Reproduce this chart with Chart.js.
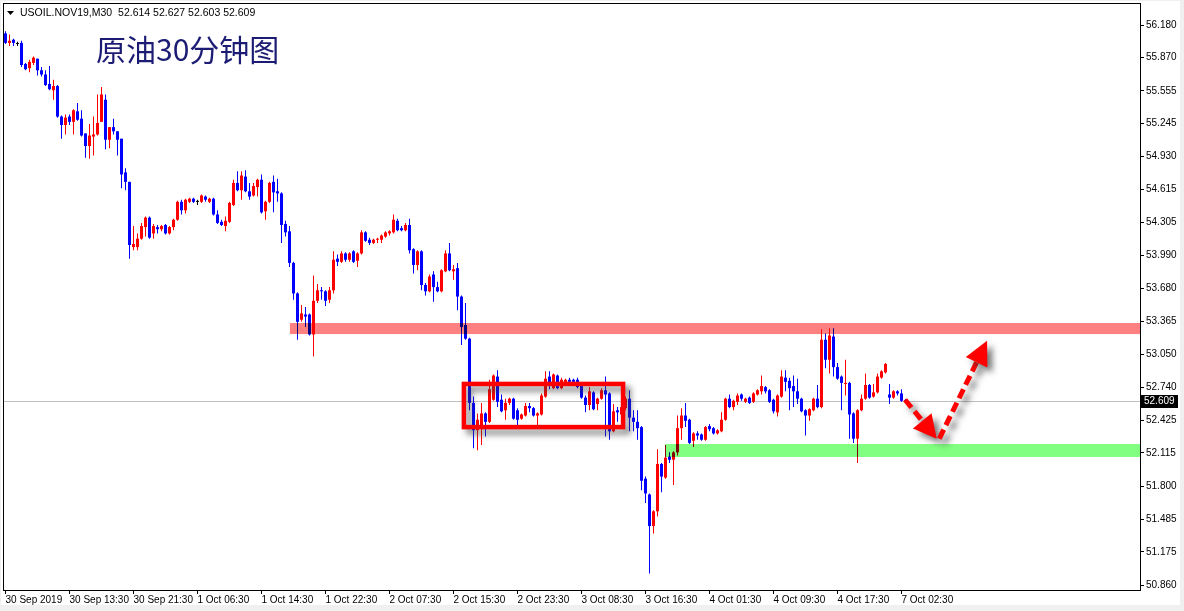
<!DOCTYPE html>
<html>
<head>
<meta charset="utf-8">
<script src="https://cdn.jsdelivr.net/npm/chart.js@4.4.1/dist/chart.umd.min.js"></script>
<style>
  html, body { margin: 0; padding: 0; background: #f0f0f0; }
  #wrap { width: 1184px; height: 611px; }
</style>
</head>
<body>
<div id="wrap"><canvas id="candles" width="1184" height="611"></canvas></div>
<script>
// USOIL.NOV19 M30 candles, 30 Sep - 7 Oct 2019
const opens = [
  56.10,56.01,56.04,56.00,56.01,55.81,55.77,55.82,55.86,55.75,
  55.71,55.62,55.56,55.60,55.31,55.23,55.31,55.26,55.36,55.29,
  55.15,55.03,55.12,55.14,55.26,55.47,55.09,55.21,55.17,55.10,
  54.78,54.69,54.07,54.07,54.15,54.26,54.35,54.20,54.26,54.24,
  54.28,54.20,54.26,54.33,54.50,54.42,54.50,54.53,54.50,54.50,
  54.55,54.50,54.53,54.38,54.31,54.27,54.31,54.47,54.68,54.61,
  54.74,54.60,54.56,54.64,54.71,54.41,54.50,54.69,54.60,54.58,
  54.29,54.22,53.92,53.63,53.38,53.43,53.43,53.24,53.56,53.66,
  53.65,53.57,53.66,53.96,53.93,54.01,53.95,54.03,53.94,54.01,
  54.21,54.14,54.11,54.14,54.14,54.17,54.20,54.21,54.32,54.25,
  54.23,54.28,54.05,53.90,54.03,53.71,53.65,53.81,53.69,53.65,
  53.84,54.01,53.84,53.87,53.60,53.33,53.20,52.59,52.33,52.36,
  52.49,52.41,52.62,52.84,52.62,52.52,52.59,52.63,52.52,52.44,
  52.47,52.56,52.54,52.47,52.48,52.65,52.84,52.73,52.85,52.73,
  52.78,52.81,52.81,52.81,52.76,52.64,52.57,52.69,52.58,52.63,
  52.71,52.68,52.32,52.52,52.48,52.54,52.63,52.45,52.41,52.36,
  51.87,51.72,51.42,51.56,52.01,51.88,52.08,52.05,52.12,52.35,
  52.47,52.43,52.23,52.30,52.29,52.24,52.37,52.35,52.30,52.32,
  52.43,52.63,52.55,52.60,52.67,52.60,52.64,52.60,52.67,52.70,
  52.74,52.71,52.62,52.50,52.65,52.83,52.80,52.75,52.70,52.63,
  52.52,52.47,52.52,52.63,52.55,53.19,53.00,53.22,52.93,52.84,
  52.77,52.78,52.49,52.25,52.52,52.63,52.76,52.65,52.69,52.83,
  52.88,52.67,52.64,52.70,52.68,52.614
];
const highs = [
  56.12,56.09,56.05,56.02,56.03,55.82,55.85,55.88,55.86,55.78,
  55.75,55.79,55.66,55.61,55.32,55.33,55.33,55.38,55.44,55.37,
  55.15,55.24,55.31,55.52,55.59,55.52,55.21,55.29,55.17,55.10,
  54.82,54.69,54.27,54.20,54.30,54.36,54.36,54.29,54.28,54.28,
  54.29,54.27,54.34,54.51,54.52,54.53,54.54,54.54,54.52,54.57,
  54.56,54.54,54.54,54.42,54.33,54.36,54.50,54.71,54.79,54.79,
  54.80,54.68,54.68,54.72,54.76,54.51,54.69,54.75,54.72,54.59,
  54.32,54.27,53.93,53.64,53.52,53.50,53.44,53.80,53.72,53.69,
  53.66,53.69,54.03,54.00,54.03,54.02,54.02,54.04,54.02,54.23,
  54.22,54.16,54.15,54.16,54.19,54.22,54.23,54.38,54.34,54.27,
  54.30,54.34,54.06,54.04,54.04,53.73,53.81,53.84,53.74,53.86,
  54.04,54.11,53.90,53.92,53.61,53.54,53.21,52.65,52.49,52.59,
  52.50,52.81,52.86,52.90,52.67,52.63,52.64,52.64,52.54,52.49,
  52.59,52.59,52.55,52.50,52.68,52.89,52.89,52.87,52.86,52.83,
  52.82,52.83,52.82,52.83,52.77,52.66,52.74,52.70,52.64,52.73,
  52.84,52.69,52.58,52.55,52.57,52.65,52.71,52.52,52.52,52.37,
  51.89,51.73,51.57,52.15,52.02,52.19,52.12,52.13,52.47,52.54,
  52.59,52.44,52.31,52.32,52.30,52.37,52.39,52.36,52.34,52.50,
  52.64,52.67,52.62,52.68,52.68,52.64,52.65,52.69,52.72,52.85,
  52.75,52.72,52.63,52.67,52.90,52.90,52.83,52.85,52.82,52.64,
  52.53,52.54,52.64,52.76,53.29,53.25,53.30,53.30,52.97,52.85,
  53.00,52.79,52.50,52.53,52.67,52.87,52.77,52.77,52.87,52.90,
  52.97,52.77,52.71,52.71,52.72,52.627
];
const lows = [
  56.00,55.98,55.98,55.98,55.78,55.75,55.73,55.80,55.70,55.69,
  55.60,55.56,55.47,55.30,55.10,55.14,55.23,55.14,55.27,55.12,
  54.92,54.91,54.94,55.13,55.26,55.00,55.01,55.14,54.94,54.63,
  54.61,53.96,54.04,54.04,54.14,54.17,54.15,54.15,54.20,54.22,
  54.19,54.19,54.23,54.32,54.38,54.39,54.49,54.49,54.47,54.49,
  54.50,54.49,54.37,54.29,54.27,54.22,54.30,54.46,54.60,54.52,
  54.59,54.52,54.55,54.55,54.39,54.33,54.49,54.40,54.50,54.11,
  54.17,53.88,53.57,53.19,53.36,53.31,53.23,53.03,53.54,53.57,
  53.51,53.54,53.63,53.89,53.92,53.93,53.93,53.92,53.88,54.00,
  54.12,54.09,54.10,54.11,54.11,54.16,54.18,54.20,54.22,54.22,
  54.22,54.01,53.82,53.85,53.66,53.61,53.64,53.55,53.64,53.64,
  53.83,53.84,53.76,53.47,53.14,53.19,52.52,52.16,52.14,52.19,
  52.27,52.40,52.61,52.55,52.50,52.43,52.57,52.43,52.38,52.43,
  52.46,52.50,52.46,52.38,52.47,52.64,52.72,52.72,52.72,52.72,
  52.77,52.78,52.78,52.73,52.63,52.50,52.52,52.52,52.52,52.62,
  52.27,52.24,52.31,52.41,52.47,52.52,52.32,52.32,52.24,51.76,
  51.64,50.97,51.35,51.51,51.74,51.87,52.02,51.81,52.09,52.24,
  52.36,52.20,52.17,52.24,52.23,52.23,52.32,52.29,52.29,52.31,
  52.42,52.54,52.52,52.57,52.61,52.59,52.58,52.59,52.66,52.67,
  52.68,52.59,52.49,52.46,52.64,52.70,52.52,52.55,52.58,52.50,
  52.28,52.42,52.51,52.54,52.54,52.92,52.87,52.84,52.81,52.52,
  52.66,52.25,52.21,52.02,52.51,52.62,52.63,52.64,52.68,52.82,
  52.87,52.58,52.63,52.66,52.60,52.603
];
const closes = [
  56.01,56.03,56.01,56.00,55.80,55.76,55.83,55.87,55.75,55.71,
  55.61,55.57,55.60,55.31,55.23,55.30,55.26,55.37,55.28,55.13,
  55.03,55.13,55.14,55.25,55.52,55.09,55.21,55.17,55.09,54.76,
  54.69,54.09,54.10,54.15,54.27,54.35,54.16,54.27,54.24,54.27,
  54.20,54.26,54.33,54.50,54.42,54.52,54.53,54.50,54.50,54.56,
  54.52,54.53,54.38,54.30,54.28,54.32,54.49,54.68,54.61,54.75,
  54.60,54.55,54.65,54.71,54.40,54.50,54.68,54.59,54.58,54.28,
  54.21,53.92,53.63,53.36,53.44,53.41,53.24,53.56,53.66,53.65,
  53.56,53.66,53.95,53.93,54.01,53.95,54.01,53.93,54.01,54.21,
  54.13,54.11,54.14,54.15,54.18,54.21,54.22,54.33,54.23,54.23,
  54.28,54.04,53.90,54.03,53.71,53.65,53.79,53.69,53.65,53.85,
  54.01,53.85,53.86,53.60,53.31,53.20,52.59,52.33,52.43,52.49,
  52.41,52.72,52.85,52.60,52.51,52.59,52.63,52.44,52.43,52.48,
  52.56,52.54,52.47,52.49,52.66,52.82,52.78,52.86,52.73,52.81,
  52.81,52.79,52.79,52.74,52.64,52.57,52.70,52.53,52.63,52.71,
  52.67,52.32,52.51,52.50,52.55,52.63,52.45,52.41,52.35,51.85,
  51.73,51.42,51.56,52.01,51.89,52.07,52.05,52.12,52.35,52.47,
  52.42,52.21,52.30,52.28,52.24,52.36,52.34,52.30,52.33,52.43,
  52.63,52.55,52.61,52.66,52.63,52.63,52.59,52.68,52.71,52.75,
  52.70,52.60,52.51,52.66,52.84,52.79,52.73,52.70,52.63,52.51,
  52.47,52.53,52.63,52.55,53.19,53.00,53.23,52.93,52.82,52.78,
  52.78,52.48,52.25,52.52,52.63,52.76,52.64,52.69,52.84,52.89,
  52.96,52.64,52.70,52.68,52.61,52.609
];

// time axis labels, one every 16 bars
const tickIdx = [0, 16, 32, 48, 64, 80, 96, 112, 128, 144, 160, 176, 192, 208, 224];
const timeLabels = [
  '30 Sep 2019', '30 Sep 13:30', '30 Sep 21:30', '1 Oct 06:30', '1 Oct 14:30',
  '1 Oct 22:30', '2 Oct 07:30', '2 Oct 15:30', '2 Oct 23:30', '3 Oct 08:30',
  '3 Oct 16:30', '4 Oct 01:30', '4 Oct 09:30', '4 Oct 17:30', '7 Oct 02:30'
];
// price scale labels as MT4 shows them
const priceTicks = [
  56.180, 55.870, 55.555, 55.245, 54.930, 54.615, 54.305, 53.990, 53.680,
  53.365, 53.050, 52.740, 52.425, 52.115, 51.800, 51.485, 51.175, 50.860
];

// drawn objects (bar index / price)
const resistanceZone = { from: 71.1, top: 53.349, bottom: 53.244 };
const supportZone = { from: 164.9, top: 52.199, bottom: 52.076 };
const rangeBox = { x0: 114.6, x1: 154.4, top: 52.77, bottom: 52.36 };
const arrowDown = { x0: 224.9, y0: 52.62, x1: 232.8, y1: 52.25 };
const arrowUp = { x0: 233.45, y0: 52.25, x1: 245.4, y1: 53.18 };

const symbolName = 'USOIL.NOV19,M30';
const chartTitle = '原油30分钟图';

const last = closes.length - 1;
const idx = opens.map((_, i) => i);
const colors = opens.map((o, i) => closes[i] > o ? '#ff0000' : (closes[i] < o ? '#0000ff' : '#000000'));
const axisFont = { family: 'Liberation Sans', size: 10 };

function noPad(s) {
  s.paddingTop = 0; s.paddingBottom = 0; s.paddingLeft = 0; s.paddingRight = 0;
}

// window frame + plot border
const frame = {
  id: 'frame',
  beforeDraw(chart) {
    const { ctx } = chart;
    ctx.save();
    ctx.fillStyle = '#f0f0f0';
    ctx.fillRect(0, 0, chart.width, chart.height);
    ctx.fillStyle = '#ffffff';
    ctx.fillRect(1, 1, 1179, 604);
    ctx.restore();
  },
  beforeDatasetsDraw(chart) {
    // bid line
    const { ctx, chartArea: a, scales } = chart;
    const y = Math.round(scales.y.getPixelForValue(closes[last])) + 0.5;
    ctx.save();
    ctx.strokeStyle = '#c0c0c0';
    ctx.lineWidth = 1;
    ctx.beginPath();
    ctx.moveTo(a.left, y);
    ctx.lineTo(a.right, y);
    ctx.stroke();
    ctx.restore();
  },
  afterDraw(chart) {
    const { ctx, chartArea: a } = chart;
    ctx.save();
    ctx.strokeStyle = '#000';
    ctx.lineWidth = 1;
    ctx.strokeRect(a.left - 0.5, a.top - 0.5, a.right - a.left + 1, a.bottom - a.top + 1);
    ctx.restore();
  }
};

function dashedArrow(ctx, x0, y0, x1, y1, headLen, headW) {
  const dx = x1 - x0, dy = y1 - y0;
  const len = Math.hypot(dx, dy);
  const ux = dx / len, uy = dy / len;
  const bx = x1 - ux * headLen, by = y1 - uy * headLen;
  ctx.setLineDash([10, 5]);
  ctx.lineWidth = 5;
  ctx.beginPath();
  ctx.moveTo(x0, y0);
  ctx.lineTo(bx, by);
  ctx.stroke();
  ctx.setLineDash([]);
  ctx.beginPath();
  ctx.moveTo(x1, y1);
  ctx.lineTo(bx - uy * headW, by + ux * headW);
  ctx.lineTo(bx + uy * headW, by - ux * headW);
  ctx.closePath();
  ctx.fill();
}

// MT4 objects: zones, box, arrows, header text
const objects = {
  id: 'objects',
  afterDatasetsDraw(chart) {
    const { ctx, chartArea: a, scales } = chart;
    const X = v => scales.x.getPixelForValue(v);
    const Y = v => scales.y.getPixelForValue(v);

    ctx.save();
    ctx.globalCompositeOperation = 'multiply';
    ctx.fillStyle = '#ff8080';
    let y0 = Y(resistanceZone.top), y1 = Y(resistanceZone.bottom);
    ctx.fillRect(X(resistanceZone.from), y0, a.right - X(resistanceZone.from), y1 - y0);
    ctx.fillStyle = '#80ff80';
    y0 = Y(supportZone.top); y1 = Y(supportZone.bottom);
    ctx.fillRect(X(supportZone.from), y0, a.right - X(supportZone.from), y1 - y0);
    ctx.restore();

    ctx.save();
    ctx.shadowColor = 'rgba(60,60,60,0.7)';
    ctx.shadowBlur = 6;
    ctx.shadowOffsetX = 5;
    ctx.shadowOffsetY = 5;
    ctx.strokeStyle = '#ff0000';
    ctx.fillStyle = '#ff0000';
    ctx.lineWidth = 4.5;
    const bx0 = X(rangeBox.x0), bx1 = X(rangeBox.x1);
    const by0 = Y(rangeBox.top), by1 = Y(rangeBox.bottom);
    ctx.strokeRect(bx0, by0, bx1 - bx0, by1 - by0);

    dashedArrow(ctx, X(arrowDown.x0), Y(arrowDown.y0), X(arrowDown.x1), Y(arrowDown.y1), 23, 12);
    dashedArrow(ctx, X(arrowUp.x0), Y(arrowUp.y0), X(arrowUp.x1), Y(arrowUp.y1), 24, 12);
    ctx.restore();
  },
  afterDraw(chart) {
    const { ctx, chartArea: a, scales } = chart;
    ctx.save();
    // header line
    ctx.fillStyle = '#000';
    ctx.beginPath();
    ctx.moveTo(7, 11); ctx.lineTo(14, 11); ctx.lineTo(10.5, 15);
    ctx.closePath();
    ctx.fill();
    ctx.font = '10.5px "Liberation Sans"';
    ctx.textBaseline = 'middle';
    const ohlc = [opens[last], highs[last], lows[last], closes[last]].map(v => v.toFixed(3)).join(' ');
    ctx.fillText(symbolName + '  ' + ohlc, 20, 13.5);

    // title
    ctx.font = '30px "Noto Sans CJK SC"';
    ctx.fillStyle = '#1c1c74';
    ctx.textBaseline = 'alphabetic';
    ctx.fillText(chartTitle, 96, 61);

    // current price tag
    const y = Math.round(scales.y.getPixelForValue(closes[last]));
    ctx.fillStyle = '#000';
    ctx.fillRect(a.right + 1, y - 6, 37, 13);
    ctx.fillStyle = '#fff';
    ctx.font = '10px "Liberation Sans"';
    ctx.textBaseline = 'middle';
    ctx.fillText(closes[last].toFixed(3), a.right + 4, y + 0.5);
    ctx.restore();
  }
};

new Chart(document.getElementById('candles'), {
  type: 'bar',
  data: {
    datasets: [
      {
        label: 'body',
        data: idx.map(i => ({ x: i, y: [opens[i], closes[i]] })),
        backgroundColor: colors,
        barThickness: 3,
        minBarLength: 1,
        grouped: false,
        inflateAmount: 0,
        borderWidth: 0
      },
      {
        label: 'wick',
        data: idx.map(i => ({ x: i, y: [lows[i], highs[i]] })),
        backgroundColor: colors,
        barThickness: 1,
        minBarLength: 1,
        grouped: false,
        inflateAmount: 0,
        borderWidth: 0
      }
    ]
  },
  options: {
    responsive: false,
    animation: false,
    devicePixelRatio: 1,
    layout: { padding: { left: 4, top: 4, right: 0, bottom: 0 } },
    plugins: { legend: { display: false }, tooltip: { enabled: false } },
    scales: {
      x: {
        type: 'linear',
        offset: false,
        min: -0.375,
        max: 283.625,
        afterBuildTicks: s => { s.ticks = tickIdx.map(v => ({ value: v })); },
        afterFit: s => { s.height = 21; noPad(s); },
        grid: { offset: false, drawOnChartArea: false, drawTicks: true, tickLength: 4, color: '#000' },
        border: { display: true, color: '#000' },
        ticks: {
          autoSkip: false, maxRotation: 0, align: 'start', padding: 0,
          color: '#000', font: axisFont,
          callback: v => timeLabels[tickIdx.indexOf(v)] || ''
        }
      },
      y: {
        type: 'linear',
        position: 'right',
        min: 50.8125,
        max: 56.3795,
        afterBuildTicks: s => { s.ticks = priceTicks.map(v => ({ value: v })); },
        afterFit: s => { s.width = 44; noPad(s); },
        grid: { drawOnChartArea: false, drawTicks: true, tickLength: 4, color: '#000' },
        border: { display: true, color: '#000' },
        ticks: {
          padding: 2, color: '#000', font: axisFont,
          callback: v => v.toFixed(3)
        }
      }
    }
  },
  plugins: [frame, objects]
});
</script>
</body>
</html>
